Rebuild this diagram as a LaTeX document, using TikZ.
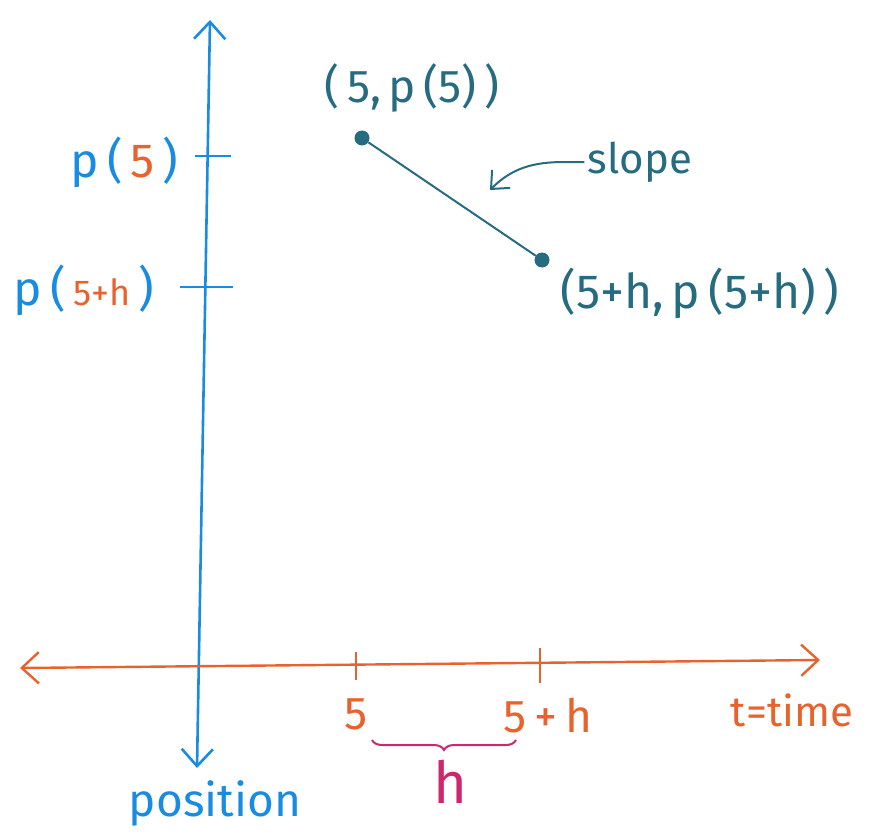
\documentclass[tikz,border=0pt]{standalone}
\usepackage{fontspec}
\setmainfont{Fira Sans}
\usepackage{xcolor}
\usetikzlibrary{positioning,arrows.meta,decorations.pathreplacing,calc}
\definecolor{cblue}{RGB}{25,140,225}
\definecolor{corange}{RGB}{232,98,45}
\definecolor{cteal}{RGB}{38,108,128}
\definecolor{cmag}{RGB}{205,40,110}
\newcommand{\fsz}[1]{\fontsize{#1}{#1}\selectfont}

\begin{document}
\begin{tikzpicture}[x=1pt,y=-1pt,
  vaxis/.style={{Straight Barb[length=6mm,width=11mm]}-{Straight Barb[length=6mm,width=11mm]},cblue,line width=2.6pt},
  haxis/.style={{Straight Barb[length=6mm,width=11mm]}-{Straight Barb[length=6mm,width=11mm]},corange,line width=2.4pt},
  tickline/.style={line width=2.2pt},
  blab/.style={cblue,font=\fsz{48}},
  olab/.style={corange,font=\fsz{46}},
  tlab/.style={cteal,font=\fsz{46}},
  ptdot/.style={circle,fill=cteal,inner sep=0pt,minimum size=15pt},
  seg/.style={cteal,line width=2pt},
  pointer/.style={-{Straight Barb[length=5mm,width=9mm]},cteal,line width=2pt},
]
\useasboundingbox (0,0) rectangle (878,840);
% axes
\coordinate (vtop) at (210,20);
\coordinate (vbot) at (197,768);
\coordinate (hleft) at (20,668);
\coordinate (hright) at (820,660);
\draw[vaxis] (vbot) -- (vtop);
\draw[haxis] (hleft) -- (hright);
% ticks
\draw[tickline,cblue] (195,156) -- (231,156);
\draw[tickline,cblue] (180,287) -- (233,287);
\draw[tickline,corange] (356,652) -- (356,680);
\draw[tickline,corange] (540,648) -- (540,683);
% labels on the axes
\node[blab,anchor=east] (p5) at (182,162) {p\,(\,\textcolor{corange}{5}\,)};
\node[blab,anchor=east] (p5h) at (158,290) {p\,(\,\textcolor{corange}{\fsz{36}5+h}\,)};
\node[olab] (t5) at (356,714) {5};
\node[olab] (t5h) at (548,716) {5\,+\,h};
\node[olab,font=\fsz{42}] (time) at (792,710) {t=time};
\node[blab,font=\fsz{46}] (pos) at (215,803) {position};
% the two points
\node[ptdot] (a) at (362,138) {};
\node[ptdot] (b) at (542,260) {};
\draw[seg] (a) -- (b);
\node[tlab] (alab) at (412,88) {(\,5,\,p\,(5)\,)};
\node[tlab,font=\fsz{48}] (blab) at (700,293) {(5+h,\,p\,(5+h)\,)};
\node[tlab,font=\fsz{42}] (slope) at (640,162) {slope};
\coordinate (aim) at (490,190);
\draw[pointer] (slope.west) -- ++(-20,0) to[out=180,in=45] (aim);
% the gap h
\coordinate (hl) at (372,740);
\coordinate (hr) at (516,740);
\draw[cmag,line width=2pt,decorate,decoration={brace,mirror,amplitude=10pt}] (hl) -- (hr);
\node[cmag,font=\fsz{58}] (h) at (450,782) {h};
\end{tikzpicture}
\end{document}
